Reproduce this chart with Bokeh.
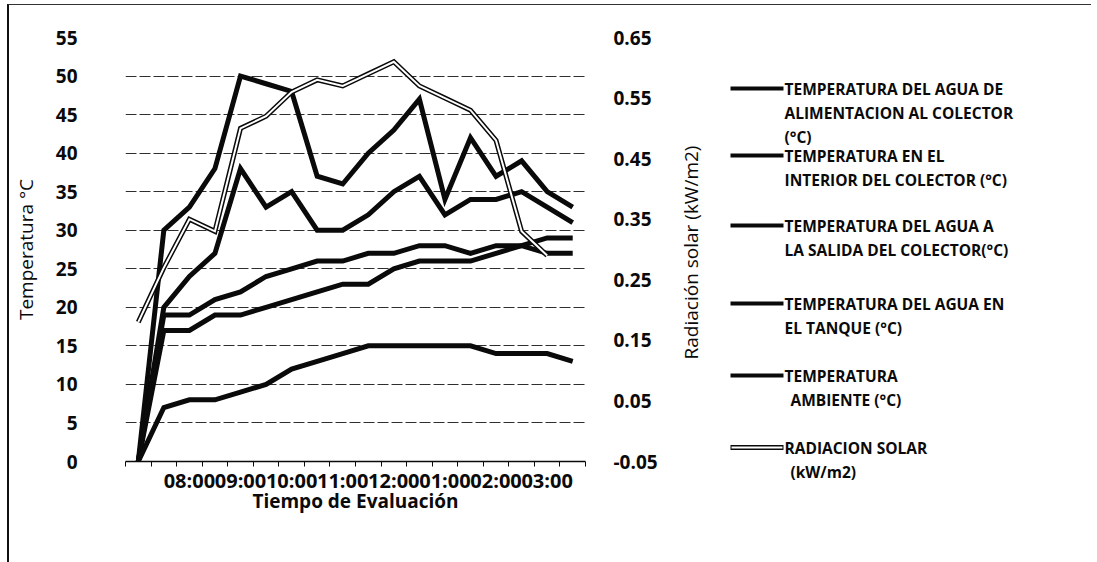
import math
from bokeh.plotting import figure
from bokeh.models import Range1d, LinearAxis, FixedTicker, PrintfTickFormatter
from bokeh.layouts import row, column
from bokeh.embed import file_html
from bokeh.resources import INLINE
from bokeh.core.properties import value

# Evaluation times (half-hour steps, 12 h clock as printed on the axis)
horas = ["", "07:30", "08:00", "08:30", "09:00", "09:30", "10:00", "10:30",
         "11:00", "11:30", "12:00", "12:30", "01:00", "01:30", "02:00",
         "02:30", "03:00", "03:30"]

# Temperatures in °C
t_alimentacion = [0, 17, 17, 19, 19, 20, 21, 22, 23, 23, 25, 26, 26, 26, 27, 28, 29, 29]
t_interior = [0, 30, 33, 38, 50, 49, 48, 37, 36, 40, 43, 47, 34, 42, 37, 39, 35, 33]
t_salida = [0, 20, 24, 27, 38, 33, 35, 30, 30, 32, 35, 37, 32, 34, 34, 35, 33, 31]
t_tanque = [0, 19, 19, 21, 22, 24, 25, 26, 26, 27, 27, 28, 28, 27, 28, 28, 27, 27]
t_ambiente = [0, 7, 8, 8, 9, 10, 12, 13, 14, 15, 15, 15, 15, 15, 14, 14, 14, 13]

# Solar radiation in kW/m2 (no reading for the last time step)
radiacion = [0.18, 0.27, 0.35, 0.33, 0.50, 0.52, 0.56, 0.58, 0.57, 0.59,
             0.61, 0.57, 0.55, 0.53, 0.48, 0.33, 0.29, float("nan")]

series_names = [
    "TEMPERATURA DEL AGUA DE\nALIMENTACION AL COLECTOR\n(°C)",
    "TEMPERATURA EN EL\nINTERIOR DEL COLECTOR (°C)",
    "TEMPERATURA DEL AGUA A\nLA SALIDA DEL COLECTOR(°C)",
    "TEMPERATURA DEL AGUA EN\nEL TANQUE (°C)",
    "TEMPERATURA\n AMBIENTE (°C)",
    "RADIACION SOLAR\n (kW/m2)",
]
titulo_rad = "Radiación solar (kW/m2)"

FONT = "Open Sans"
INK = "#0a0a0a"

# page geometry (pixels): the whole chart sits 9 px right / 5 px down
OX, OY = 9, 5
H = 557
MAIN_RIGHT = 665          # page x where the legend panel begins

x = list(range(len(horas)))

p = figure(width=MAIN_RIGHT - OX, height=H,
           x_range=Range1d(-0.5, len(horas) - 0.5), y_range=Range1d(0, 55),
           output_backend="svg", toolbar_location=None,
           min_border_left=120 - OX, min_border_right=MAIN_RIGHT - 585,
           min_border_top=37 - OY, min_border_bottom=H - (461 - OY))
p.extra_y_ranges = {"rad": Range1d(-0.05, 0.65)}
p.outline_line_color = None
p.background_fill_color = "white"
p.border_fill_color = "white"

# gridlines every 5 °C
p.xgrid.grid_line_color = None
p.ygrid.ticker = FixedTicker(ticks=list(range(0, 56, 5)))
p.ygrid.grid_line_color = INK
p.ygrid.grid_line_width = 1
p.ygrid.grid_line_dash = "11 3"
p.ygrid.grid_line_alpha = 0.85

# category axis: tick marks between categories, labels every second category
xa = p.xaxis[0]
xa.ticker = FixedTicker(ticks=x[::2], minor_ticks=[i - 0.5 for i in range(len(horas) + 1)])
xa.major_label_overrides = {i: horas[i] for i in x[::2]}
xa.major_tick_out = 0
xa.major_tick_in = 0
xa.minor_tick_out = 5
xa.minor_tick_in = 0
xa.minor_tick_line_color = INK
xa.axis_line_color = INK
xa.axis_line_width = 1.5
xa.major_label_standoff = 0
xa.major_label_text_font = FONT
xa.major_label_text_font_size = "20px"
xa.major_label_text_font_style = "bold"
xa.major_label_text_color = INK
xa.axis_label = "Tiempo de Evaluación"
xa.axis_label_text_font = FONT
xa.axis_label_text_font_size = "19px"
xa.axis_label_text_font_style = "bold"
xa.axis_label_text_color = INK
xa.axis_label_standoff = -9

ya = p.yaxis[0]
ya.ticker = FixedTicker(ticks=list(range(0, 56, 5)))
ya.axis_line_color = None
ya.major_tick_line_color = None
ya.minor_tick_line_color = None
ya.major_label_standoff = 42
ya.major_label_text_font = FONT
ya.major_label_text_font_size = "19px"
ya.major_label_text_font_style = "bold"
ya.major_label_text_color = INK
ya.axis_label = "Temperatura °C"
ya.axis_label_text_font = FONT
ya.axis_label_text_font_size = "19px"
ya.axis_label_text_font_style = "normal"
ya.axis_label_text_color = INK
ya.axis_label_standoff = 14

ra = LinearAxis(y_range_name="rad",
                ticker=FixedTicker(ticks=[-0.05 + 0.1 * k for k in range(8)]),
                formatter=PrintfTickFormatter(format="%.2f"))
ra.axis_line_color = None
ra.major_tick_line_color = None
ra.minor_tick_line_color = None
ra.major_label_standoff = 22
ra.major_label_text_font = FONT
ra.major_label_text_font_size = "19px"
ra.major_label_text_font_style = "bold"
ra.major_label_text_color = INK
p.add_layout(ra, "right")

temps = [t_alimentacion, t_interior, t_salida, t_tanque, t_ambiente]
for ys in temps:
    p.line(x, ys, line_color=INK, line_width=5, line_join="miter")

# radiation: white line with dark edges
p.line(x, radiacion, y_range_name="rad", line_color=INK, line_width=5, line_join="miter")
p.line(x, radiacion, y_range_name="rad", line_color="white", line_width=2, line_join="miter")

# side panel with the secondary axis title and the legend, in page pixels
LW = 1097 - MAIN_RIGHT - 6
leg = figure(width=LW, height=H,
             x_range=Range1d(MAIN_RIGHT, MAIN_RIGHT + LW), y_range=Range1d(OY + H, OY),
             output_backend="svg", toolbar_location=None,
             min_border_left=0, min_border_right=0, min_border_top=0, min_border_bottom=0)
leg.axis.visible = False
leg.grid.visible = False
leg.outline_line_color = None
leg.background_fill_color = "white"
leg.border_fill_color = "white"

leg.text(x=[690], y=[252], text=[titulo_rad], angle=math.pi / 2,
         text_font=value(FONT), text_font_size="19px", text_color=INK,
         text_align="center", text_baseline="middle")

entry_y = [88, 155, 225, 303, 375, 447]
line_gap = 24
tx, ty, tt = [], [], []
for k, name in enumerate(series_names):
    y0 = entry_y[k]
    if k < 5:
        leg.line([730, 783], [y0, y0], line_color=INK, line_width=4)
    else:
        leg.line([730, 783], [y0, y0], line_color=INK, line_width=5)
        leg.line([731, 782], [y0, y0], line_color="white", line_width=2)
    for j, part in enumerate(name.split("\n")):
        tx.append(784 + (6 if part.startswith(" ") else 0))
        ty.append(y0 + j * line_gap)
        tt.append(part.strip())
leg.text(x=tx, y=ty, text=tt, text_font=value(FONT), text_font_size="15.5px",
         text_font_style="bold", text_color=INK, text_align="left", text_baseline="middle")

layout = row(column(p), column(leg),
             styles={"border-left": "2px solid #111", "border-top": "1px solid #333",
                     "margin-left": "7px", "margin-top": "4px"})

open("out.html", "w").write(file_html(layout, INLINE))
